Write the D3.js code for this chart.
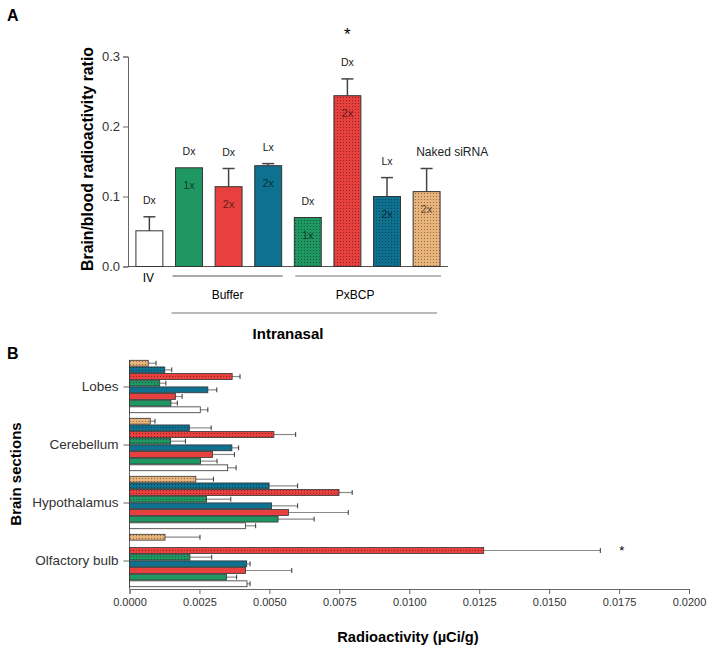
<!DOCTYPE html>
<html>
<head>
<meta charset="utf-8">
<script src="https://cdn.jsdelivr.net/npm/d3@7"></script>
<style>
  body { margin: 0; background: #fff; }
  svg { font-family: "Liberation Sans", Arial, sans-serif; }
  .axis path, .axis line { stroke: #666; }
  .axis text { fill: #333; }
</style>
</head>
<body>
<div id="container"></div>
<script>
// series, in the order of panel A (left to right) = panel B (bottom to top)
var series = ["IV", "Buffer Dx 1x", "Buffer Dx 2x", "Buffer Lx 2x",
              "PxBCP Dx 1x", "PxBCP Dx 2x", "PxBCP Lx 2x", "Naked siRNA 2x"];
var topLabels = ["Dx", "Dx", "Dx", "Lx", "Dx", "Dx", "Lx", "Naked siRNA"];
var doseLabels = ["", "1x", "2x", "2x", "1x", "2x", "2x", "2x"];
var colors = ["#ffffff", "#1f9762", "#e8403f", "#0f7190", "#1f9762", "#e8403f", "#0f7190", "#e9b47c"];
var patterned = [false, false, false, false, true, true, true, true];

// panel A: brain/blood ratio
var ratioMean = [0.051, 0.141, 0.114, 0.144, 0.070, 0.244, 0.100, 0.107];
var ratioErr  = [0.020, 0.000, 0.026, 0.003, 0.000, 0.024, 0.027, 0.033];
var ratioTicks = [0.0, 0.1, 0.2, 0.3];

// panel B: radioactivity per brain section (uCi/g)
var sections = ["Lobes", "Cerebellum", "Hypothalamus", "Olfactory bulb"];
var lobes        = [0.00253, 0.00148, 0.00164, 0.00280, 0.00108, 0.00367, 0.00126, 0.00067];
var lobesErr     = [0.00027, 0.00023, 0.00024, 0.00032, 0.00022, 0.00028, 0.00025, 0.00028];
var cerebellum   = [0.00351, 0.00254, 0.00297, 0.00366, 0.00147, 0.00516, 0.00214, 0.00074];
var cerebellumErr= [0.00030, 0.00059, 0.00078, 0.00024, 0.00053, 0.00078, 0.00078, 0.00017];
var hypothalamus = [0.00415, 0.00531, 0.00568, 0.00508, 0.00275, 0.00749, 0.00499, 0.00237];
var hypothalamusErr = [0.00036, 0.00129, 0.00214, 0.00093, 0.00087, 0.00047, 0.00102, 0.00063];
var olfactory    = [0.00420, 0.00347, 0.00415, 0.00419, 0.00216, 0.01266, 0, 0.00127];
var olfactoryErr = [0.00011, 0.00036, 0.00165, 0.00012, 0.00078, 0.00417, 0, 0.00125];
var radioTicks = d3.range(0, 0.02001, 0.0025);

var sectionData = [lobes, cerebellum, hypothalamus, olfactory];
var sectionErr = [lobesErr, cerebellumErr, hypothalamusErr, olfactoryErr];

var w = 711, h = 651;
var svg = d3.select("#container").append("svg")
  .attr("width", w).attr("height", h);

// dotted fills for the PxBCP / naked groups
var defs = svg.append("defs");
colors.forEach(function(c, i) {
  if (!patterned[i]) return;
  var p = defs.append("pattern").attr("id", "pat" + i)
    .attr("patternUnits", "userSpaceOnUse").attr("width", 3).attr("height", 3);
  p.append("rect").attr("width", 3).attr("height", 3).attr("fill", c);
  p.append("rect").attr("x", 1).attr("y", 1).attr("width", 1).attr("height", 1)
    .attr("fill", "rgba(0,0,0,0.4)");
});
function fillOf(i) { return patterned[i] ? "url(#pat" + i + ")" : colors[i]; }

// ---------- panel A ----------
svg.append("text").attr("x", 7).attr("y", 21).text("A")
  .style("font-weight", "bold").style("font-size", "16px");

var xA = d3.scaleBand().domain(series).range([128, 448])
  .paddingInner(0.32).paddingOuter(0.2);
var yA = d3.scaleLinear().domain([0, 0.3]).range([266.5, 56.5]);
var bw = xA.bandwidth();

svg.append("g").attr("class", "axis")
  .attr("transform", "translate(128,0)")
  .call(d3.axisLeft(yA).tickValues(ratioTicks).tickFormat(d3.format(".1f")).tickSize(5).tickPadding(3))
  .call(function(g) { g.selectAll("text").style("font-size", "13px"); });

svg.append("line").attr("x1", 128).attr("x2", 448)
  .attr("y1", yA(0)).attr("y2", yA(0)).attr("stroke", "#555");

svg.append("text")
  .attr("transform", "translate(93,159) rotate(-90)")
  .attr("text-anchor", "middle")
  .style("font-weight", "bold").style("font-size", "15.8px")
  .text("Brain/blood radioactivity ratio");

var barsA = svg.append("g");
series.forEach(function(s, i) {
  var x = xA(s), m = ratioMean[i], e = ratioErr[i];
  if (e > 0) {
    barsA.append("line").attr("x1", x + bw / 2).attr("x2", x + bw / 2)
      .attr("y1", yA(m)).attr("y2", yA(m + e)).attr("stroke", "#444").attr("stroke-width", 1.5);
    barsA.append("line").attr("x1", x + bw / 2 - 6).attr("x2", x + bw / 2 + 6)
      .attr("y1", yA(m + e)).attr("y2", yA(m + e)).attr("stroke", "#444").attr("stroke-width", 1.5);
  }
  barsA.append("rect").attr("x", x).attr("y", yA(m))
    .attr("width", bw).attr("height", yA(0) - yA(m))
    .attr("fill", fillOf(i)).attr("stroke", "#333").attr("stroke-width", 1);
  if (doseLabels[i]) {
    barsA.append("text").attr("x", x + bw / 2).attr("y", yA(m) + 21)
      .attr("text-anchor", "middle").style("font-size", "11px")
      .attr("fill", "rgba(0,0,0,0.6)").text(doseLabels[i]);
  }
  barsA.append("text").attr("x", x + bw / 2).attr("y", yA(m + e) - 13)
    .attr("text-anchor", topLabels[i].length > 2 ? "start" : "middle")
    .attr("dx", topLabels[i].length > 2 ? -bw / 2 + 3 : 0)
    .style("font-size", topLabels[i].length > 2 ? "12px" : "10.5px")
    .attr("fill", "#222").text(topLabels[i]);
});
// significance star
svg.append("text").attr("x", xA(series[5]) + bw / 2).attr("y", 40)
  .attr("text-anchor", "middle").style("font-size", "17px").text("*");

// group labels under the axis
var bufL = xA(series[1]) - 3, bufR = xA(series[3]) + bw + 1;
var pxL = xA(series[4]) + 1, pxR = xA(series[7]) + bw + 1;
var lowL = bufL - 1, lowR = xA(series[7]) + bw - 3;
svg.append("line").attr("x1", bufL).attr("x2", bufR).attr("y1", 276).attr("y2", 276).attr("stroke", "#555");
svg.append("line").attr("x1", pxL).attr("x2", pxR).attr("y1", 276).attr("y2", 276).attr("stroke", "#777");
svg.append("line").attr("x1", lowL).attr("x2", lowR).attr("y1", 313).attr("y2", 313).attr("stroke", "#777");
svg.append("text").attr("x", xA(series[0]) + bw / 2 - 1).attr("y", 282).attr("text-anchor", "middle")
  .style("font-size", "12px").text("IV");
svg.append("text").attr("x", (bufL + bufR) / 2).attr("y", 299).attr("text-anchor", "middle")
  .style("font-size", "12px").text("Buffer");
svg.append("text").attr("x", (pxL + pxR) / 2 - 13).attr("y", 299).attr("text-anchor", "middle")
  .style("font-size", "12px").text("PxBCP");
svg.append("text").attr("x", 288).attr("y", 339).attr("text-anchor", "middle")
  .style("font-weight", "bold").style("font-size", "15px").text("Intranasal");

// ---------- panel B ----------
svg.append("text").attr("x", 7).attr("y", 359).text("B")
  .style("font-weight", "bold").style("font-size", "16px");

var xB = d3.scaleLinear().domain([0, 0.02]).range([129.5, 689]);
var yB = d3.scaleBand().domain(sections).range([358, 590]);
var yInner = d3.scaleBand().domain(series.slice().reverse()).range([1.5, 55.5]).padding(0.12);
var bh = yInner.bandwidth();

svg.append("g").attr("class", "axis")
  .attr("transform", "translate(0,589)")
  .call(d3.axisBottom(xB).tickValues(radioTicks).tickFormat(d3.format(".4f")).tickSize(5).tickPadding(4))
  .call(function(g) { g.selectAll("text").style("font-size", "11px"); });

svg.append("g").attr("class", "axis")
  .attr("transform", "translate(129.5,0)")
  .call(d3.axisLeft(yB).tickSize(6).tickPadding(5))
  .call(function(g) {
    g.select(".domain").attr("d", "M0,360V589");
    g.selectAll("text").style("font-size", "13.5px");
  });

svg.append("text")
  .attr("transform", "translate(21,474) rotate(-90)")
  .attr("text-anchor", "middle")
  .style("font-weight", "bold").style("font-size", "15px")
  .text("Brain sections");

svg.append("text").attr("x", 408).attr("y", 642).attr("text-anchor", "middle")
  .style("font-weight", "bold").style("font-size", "14.7px").text("Radioactivity (\u00b5Ci/g)");

var barsB = svg.append("g");
sections.forEach(function(sec, k) {
  var vals = sectionData[k], errs = sectionErr[k];
  series.forEach(function(s, i) {
    if (vals[i] <= 0) return;
    var y = yB(sec) + yInner(s);
    var x1 = xB(vals[i]), x2 = xB(vals[i] + errs[i]);
    barsB.append("line").attr("x1", x1).attr("x2", x2)
      .attr("y1", y + bh / 2).attr("y2", y + bh / 2).attr("stroke", "#8a8a8a").attr("stroke-width", 1.2);
    barsB.append("line").attr("x1", x2).attr("x2", x2)
      .attr("y1", y + 0.5).attr("y2", y + bh - 0.5).attr("stroke", "#333").attr("stroke-width", 1);
    barsB.append("rect").attr("x", xB(0)).attr("y", y)
      .attr("width", x1 - xB(0)).attr("height", bh)
      .attr("fill", fillOf(i)).attr("stroke", "#333").attr("stroke-width", 0.8);
  });
});
svg.append("text").attr("x", xB(0.0176)).attr("y", yB("Olfactory bulb") + yInner(series[5]) + bh + 2)
  .attr("text-anchor", "middle").style("font-size", "13px").text("*");
</script>
</body>
</html>
